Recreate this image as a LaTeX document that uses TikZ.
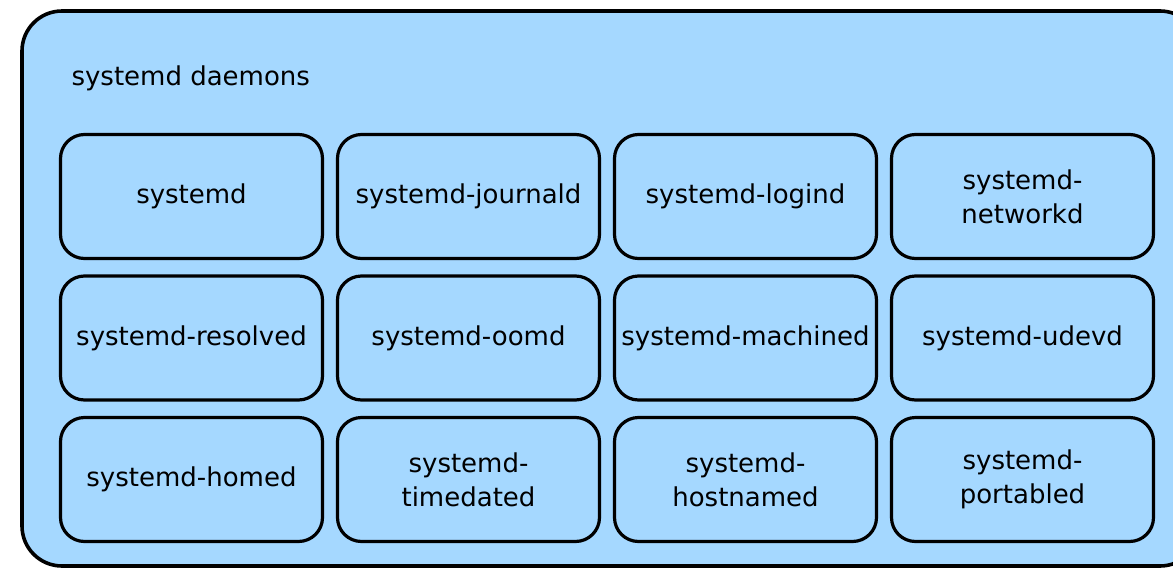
\documentclass[tikz,border=0pt]{standalone}
\usepackage{fontspec}
\setmainfont{DejaVu Sans}
\usetikzlibrary{positioning}
\definecolor{daemonblue}{HTML}{A5D8FF}

\begin{document}
\begin{tikzpicture}[x=1pt, y=-1pt, node distance=141.5pt and 277pt, on grid,
    daemon/.style={draw, line width=3.2pt, rounded corners=24pt, inner sep=0pt,
        minimum width=262pt, minimum height=124pt, align=center,
        font=\fontsize{26}{34}\selectfont}]
    \useasboundingbox (0,0) rectangle (1173,568);
    \clip (0,0) rectangle (1173,568);
    \draw[line width=3.6pt, fill=daemonblue, rounded corners=40pt] (22,11) rectangle (1200,566);
    \node[anchor=west, font=\fontsize{26}{32}\selectfont] (title) at (68,78) {systemd daemons};
    % row 1
    \node[daemon] (sd) at (191.5,196.5) {systemd};
    \node[daemon, right=of sd] (journald) {systemd-journald};
    \node[daemon, right=of journald] (logind) {systemd-logind};
    \node[daemon, right=of logind] (networkd) {systemd-\\networkd};
    % row 2
    \node[daemon, below=of sd] (resolved) {systemd-resolved};
    \node[daemon, right=of resolved] (oomd) {systemd-oomd};
    \node[daemon, right=of oomd] (machined) {systemd-machined};
    \node[daemon, right=of machined] (udevd) {systemd-udevd};
    % row 3
    \node[daemon, below=of resolved] (homed) {systemd-homed};
    \node[daemon, right=of homed] (timedated) {systemd-\\timedated};
    \node[daemon, right=of timedated] (hostnamed) {systemd-\\hostnamed};
    \node[daemon, right=of hostnamed] (portabled) {systemd-\\portabled};
\end{tikzpicture}
\end{document}
